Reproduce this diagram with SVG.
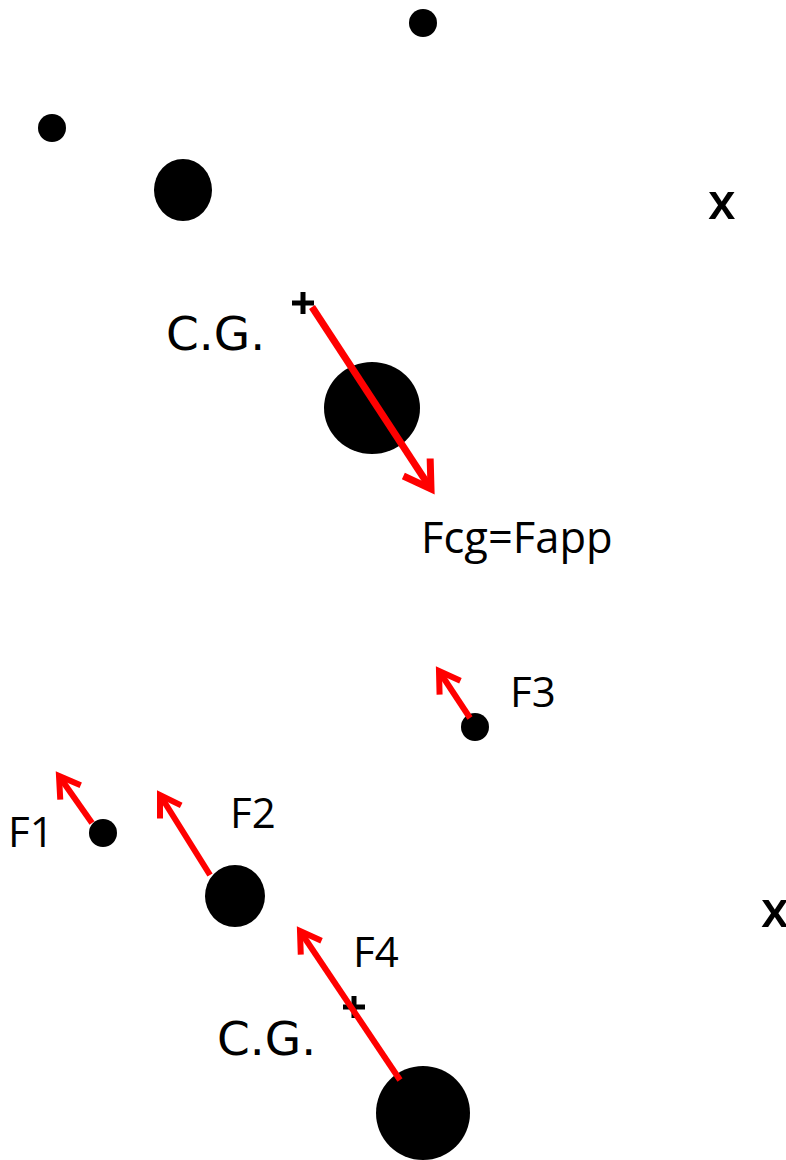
<svg xmlns="http://www.w3.org/2000/svg" width="786" height="1160" viewBox="0 0 786 1160">
<style>
.mass{fill:#000}
.cg{stroke:#000;stroke-width:5;fill:none}
.force{stroke:#ff0000;stroke-width:6;fill:none}
.big{stroke-width:7}
.lbl{font-family:"Open Sans","Liberation Sans",sans-serif;font-size:42px;fill:#000}
.xm{font-family:"Open Sans","Liberation Sans",sans-serif;font-size:50px;font-weight:600;fill:#000}
.cgl{font-family:"DejaVu Sans","Liberation Sans",sans-serif;font-size:47px;fill:#000}
</style>
<defs>
<marker id="headL" markerUnits="userSpaceOnUse" orient="auto" overflow="visible" refX="0" refY="0" markerWidth="1" markerHeight="1">
<path d="M-26,-16 L0,0 L-26,16" stroke="#ff0000" stroke-width="7" fill="none"/>
</marker>
<marker id="headS" markerUnits="userSpaceOnUse" orient="auto" overflow="visible" refX="0" refY="0" markerWidth="1" markerHeight="1">
<path d="M-20,-12.5 L0,0 L-20,12.5" stroke="#ff0000" stroke-width="6" fill="none"/>
</marker>
</defs>
<rect width="786" height="1160" fill="#fff"/>
<g id="top-system">
<g id="m1"><circle class="mass" cx="423" cy="23" r="14"/></g>
<g id="m2"><circle class="mass" cx="52" cy="128" r="14"/></g>
<g id="m3"><ellipse class="mass" cx="183" cy="190" rx="29" ry="31"/></g>
<g id="m4"><ellipse class="mass" cx="372" cy="408" rx="48" ry="46"/></g>
<g id="cg1"><path class="cg" d="M292,303 H314 M303,292 V314"/><text class="cgl" x="166" y="350">C.G.</text></g>
<g id="x1"><text class="xm" x="708" y="219">x</text></g>
<g id="lbl-fcg"><text class="lbl" x="421" y="553" style="font-size:43.5px">Fcg=Fapp</text></g>
</g>
<g id="bottom-system">
<g id="m5"><circle class="mass" cx="475" cy="727" r="14"/></g>
<g id="m6"><circle class="mass" cx="103" cy="833" r="14"/></g>
<g id="m7"><ellipse class="mass" cx="235" cy="896" rx="30" ry="31"/></g>
<g id="m8"><circle class="mass" cx="423" cy="1113" r="47"/></g>
<g id="cg2"><path class="cg" d="M343,1007 H365 M354,996 V1018"/><text class="cgl" x="217" y="1055">C.G.</text></g>
<g id="x2"><text class="xm" x="761" y="927">x</text></g>
<g id="lbl-f1"><text class="lbl" x="8" y="847">F1</text></g>
<g id="lbl-f2"><text class="lbl" x="230" y="828">F2</text></g>
<g id="lbl-f3"><text class="lbl" x="510" y="707">F3</text></g>
<g id="lbl-f4"><text class="lbl" x="353" y="967">F4</text></g>
</g>
<g id="connectors">
<line class="force big" x1="312" y1="307" x2="431" y2="489" marker-end="url(#headL)"/>
<line class="force" x1="470" y1="718" x2="439" y2="671" marker-end="url(#headS)"/>
<line class="force" x1="92" y1="823" x2="59" y2="776" marker-end="url(#headS)"/>
<line class="force" x1="210" y1="875" x2="160" y2="795" marker-end="url(#headS)"/>
<line class="force" x1="400" y1="1080" x2="300" y2="931" marker-end="url(#headS)"/>
</g>
</svg>
